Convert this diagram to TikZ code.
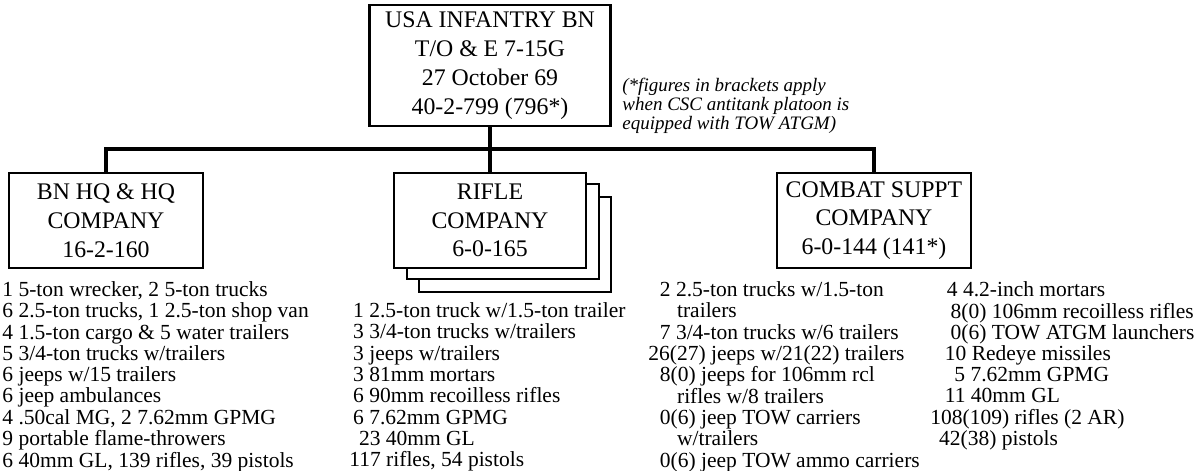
\documentclass[tikz,border=0pt]{standalone}
\usepackage{fontspec}
\setmainfont{Liberation Serif}
\begin{document}
\begin{tikzpicture}[x=0.5pt, y=-0.5pt]
\tikzset{
  unitbox/.style={draw, line width=1.3pt, fill=white, inner sep=0pt, align=center,
    minimum width=97pt, minimum height=47.5pt, font=\fontsize{11.9}{14.4}\selectfont},
  listtext/.style={anchor=north west, inner sep=0pt, font=\fontsize{10.75}{10.6}\selectfont},
  link/.style={line width=1.6pt}
}
\useasboundingbox (0,0) rectangle (1201,471);

% battalion
\node[unitbox, minimum width=120.5pt, minimum height=60.5pt] (bn) at (490,65.5)
  {USA INFANTRY BN\\T/O \& E 7-15G\\27 October 69\\40-2-799 (796*)};
\node[anchor=north west, inner sep=0pt, font=\fontsize{9.5}{9.25}\selectfont\itshape] (note) at (622,78)
  {\begin{tabular}{@{}l@{}}(*figures in brackets apply\\when CSC antitank platoon is\\equipped with TOW ATGM)\end{tabular}};

% companies
\node[unitbox] (hqco) at (106,220.5) {BN HQ \& HQ\\COMPANY\\16-2-160};
\node[unitbox, minimum width=96pt] (rifleco3) at (515,244.5) {};
\node[unitbox, minimum width=96pt] (rifleco2) at (503,231.5) {};
\node[unitbox, minimum width=96pt] (rifleco) at (490,220.5) {RIFLE\\COMPANY\\6-0-165};
\node[unitbox] (csco) at (874,220.5) {COMBAT SUPPT\\COMPANY\\6-0-144 (141*)};

\coordinate (bus) at (490,149);
\draw[link] (bn) -- (rifleco);
\draw[link] (hqco.north) |- (bus) -| (csco.north);

% equipment
\node[listtext] (hqlist) at (2,281.2) {\begin{tabular}{@{}l@{}}
1 5-ton wrecker, 2 5-ton trucks\\
6 2.5-ton trucks, 1 2.5-ton shop van\\
4 1.5-ton cargo \& 5 water trailers\\
5 3/4-ton trucks w/trailers\\
6 jeeps w/15 trailers\\
6 jeep ambulances\\
4 .50cal MG, 2 7.62mm GPMG\\
9 portable flame-throwers\\
6 40mm GL, 139 rifles, 39 pistols\end{tabular}};
\node[listtext] (riflelist) at (349,302.4) {\begin{tabular}{@{}l@{}}
\hspace*{1.9pt}1 2.5-ton truck w/1.5-ton trailer\\
\hspace*{1.9pt}3 3/4-ton trucks w/trailers\\
\hspace*{1.9pt}3 jeeps w/trailers\\
\hspace*{1.9pt}3 81mm mortars\\
\hspace*{1.9pt}6 90mm recoilless rifles\\
\hspace*{1.9pt}6 7.62mm GPMG\\
\hspace*{4.8pt}23 40mm GL\\
117 rifles, 54 pistols\end{tabular}};
\node[listtext] (cslist) at (648,281.2) {\begin{tabular}{@{}l@{}}
\hspace*{5.75pt}2 2.5-ton trucks w/1.5-ton\\
\hspace*{14.35pt}trailers\\
\hspace*{5.75pt}7 3/4-ton trucks w/6 trailers\\
26(27) jeeps w/21(22) trailers\\
\hspace*{5.75pt}8(0) jeeps for 106mm rcl\\
\hspace*{14.35pt}rifles w/8 trailers\\
\hspace*{5.75pt}0(6) jeep TOW carriers\\
\hspace*{14.35pt}w/trailers\\
\hspace*{5.75pt}0(6) jeep TOW ammo carriers\end{tabular}};
\node[listtext] (cslist2) at (930,281.2) {\begin{tabular}{@{}l@{}}
\hspace*{8.25pt}4 4.2-inch mortars\\
\hspace*{10.15pt}8(0) 106mm recoilless rifles\\
\hspace*{10.15pt}0(6) TOW ATGM launchers\\
\hspace*{7.25pt}10 Redeye missiles\\
\hspace*{12pt}5 7.62mm GPMG\\
\hspace*{7.25pt}11 40mm GL\\
108(109) rifles (2 AR)\\
\hspace*{4.4pt}42(38) pistols\end{tabular}};
\end{tikzpicture}
\end{document}
